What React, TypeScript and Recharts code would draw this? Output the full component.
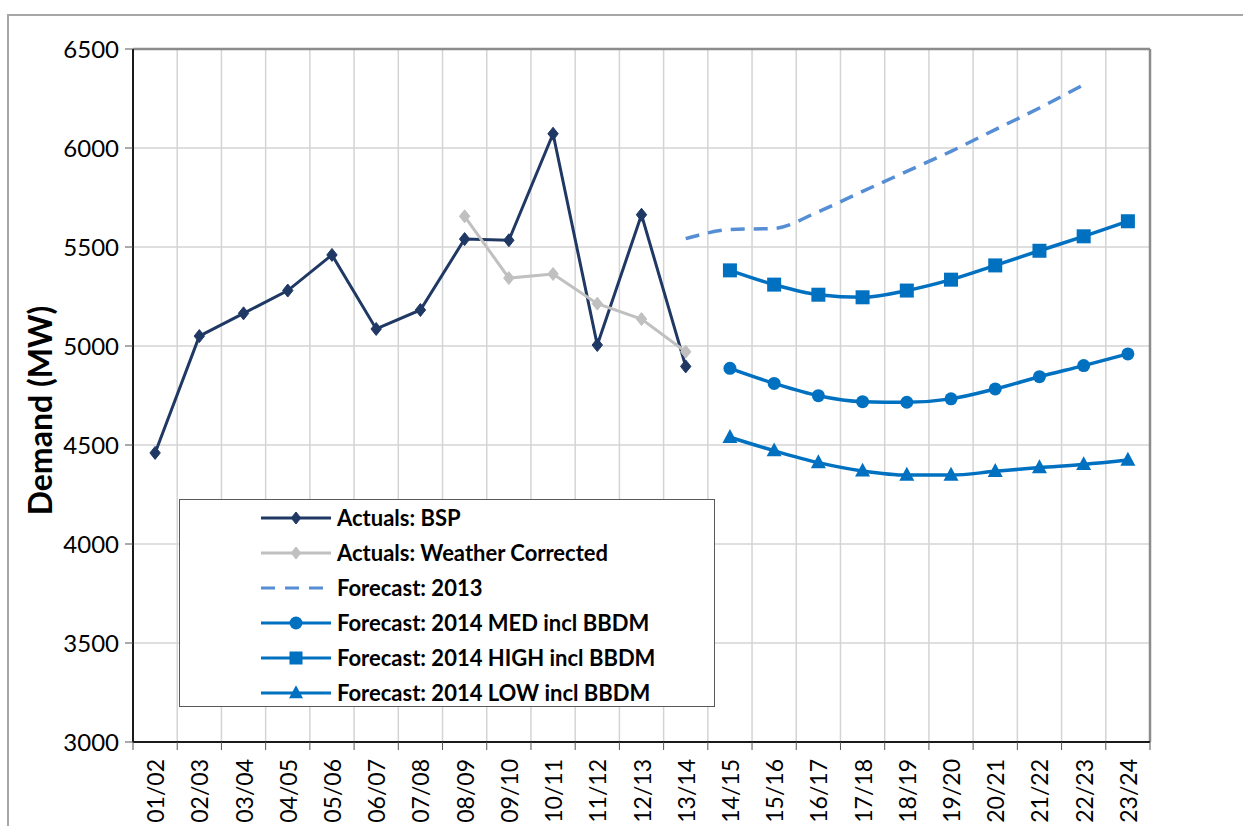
import React from 'react';
import { LineChart, Line, XAxis, YAxis, CartesianGrid, Legend, ReferenceLine } from 'recharts';

const categories = ['01/02','02/03','03/04','04/05','05/06','06/07','07/08','08/09','09/10','10/11','11/12','12/13','13/14','14/15','15/16','16/17','17/18','18/19','19/20','20/21','21/22','22/23','23/24'];
const actualsBSP = [4460, 5050, 5165, 5280, 5460, 5086, 5182, 5540, 5534, 6072, 5005, 5663, 4897, null, null, null, null, null, null, null, null, null, null];
const weatherCorrected = [null, null, null, null, null, null, null, 5655, 5343, 5364, 5214, 5136, 4971, null, null, null, null, null, null, null, null, null, null];
const forecast2013 = [null, null, null, null, null, null, null, null, null, null, null, null, 5542, 5588, 5594, 5678, 5781, 5882, 5983, 6093, 6202, 6320, null];
const forecastMed = [null, null, null, null, null, null, null, null, null, null, null, null, null, 4887, 4811, 4749, 4719, 4716, 4733, 4783, 4845, 4901, 4960];
const forecastHigh = [null, null, null, null, null, null, null, null, null, null, null, null, null, 5382, 5310, 5259, 5246, 5280, 5335, 5407, 5481, 5554, 5630];
const forecastLow = [null, null, null, null, null, null, null, null, null, null, null, null, null, 4539, 4471, 4411, 4369, 4348, 4348, 4367, 4386, 4402, 4424];
const yTicks = [3000, 3500, 4000, 4500, 5000, 5500, 6000, 6500];
const legendOrder = ['bsp', 'wc', 'f2013', 'med', 'high', 'low'];

const data = categories.map((c, i) => ({
  x: i + 0.5,
  cat: c,
  bsp: actualsBSP[i],
  wc: weatherCorrected[i],
  f2013: forecast2013[i],
  med: forecastMed[i],
  high: forecastHigh[i],
  low: forecastLow[i],
}));
const boundaryTicks = categories.map((_, i) => i).concat([categories.length]);
const centerTicks = categories.map((_, i) => i + 0.5);

const NAVY = '#1F3864';
const GREY = '#C0C0C0';
const DASH = '#558ED5';
const BLUE = '#0070C0';
const FONT = 'Lato, "Open Sans", sans-serif';

type Shape = 'diamond' | 'square' | 'circle' | 'triangle' | 'none';

function marker(shape: Shape, cx: number, cy: number, color: string, s: number, key?: any) {
  if (shape === 'diamond') {
    return <path key={key} d={`M${cx},${cy - s}L${cx + s * 0.8},${cy}L${cx},${cy + s}L${cx - s * 0.8},${cy}Z`} fill={color} stroke={color} />;
  }
  if (shape === 'square') {
    return <rect key={key} x={cx - s} y={cy - s} width={2 * s} height={2 * s} fill={color} />;
  }
  if (shape === 'circle') {
    return <circle key={key} cx={cx} cy={cy} r={s} fill={color} />;
  }
  if (shape === 'triangle') {
    return <path key={key} d={`M${cx},${cy - s * 1.1}L${cx + s},${cy + s * 0.75}L${cx - s},${cy + s * 0.75}Z`} fill={color} />;
  }
  return null;
}

const makeDot = (shape: Shape, color: string, s: number) => (props: any) => {
  const { cx, cy, index, value } = props;
  if (cx == null || cy == null || value == null || Number.isNaN(cy)) return <g key={index} />;
  return <g key={index}>{marker(shape, cx, cy, color, s)}</g>;
};

const legendSpec: Record<string, { shape: Shape; color: string; dash?: string; s: number; w: number }> = {
  bsp: { shape: 'diamond', color: NAVY, s: 6, w: 3 },
  wc: { shape: 'diamond', color: GREY, s: 6, w: 3 },
  f2013: { shape: 'none', color: DASH, dash: '14 10', s: 0, w: 3 },
  med: { shape: 'circle', color: BLUE, s: 6.5, w: 3 },
  high: { shape: 'square', color: BLUE, s: 6.5, w: 3 },
  low: { shape: 'triangle', color: BLUE, s: 7, w: 3 },
};

const LegendBox = (props: any) => {
  const payload = [...(props.payload || [])].sort(
    (a: any, b: any) => legendOrder.indexOf(a.dataKey) - legendOrder.indexOf(b.dataKey)
  );
  return (
    <div style={{ paddingTop: 0 }}>
      {payload.map((p: any) => {
        const spec = legendSpec[p.dataKey];
        return (
          <div key={p.dataKey} style={{ display: 'flex', alignItems: 'center', height: 35, marginLeft: 80 }}>
            <svg width={74} height={20} style={{ flex: 'none' }}>
              <line x1={1} y1={10} x2={71} y2={10} stroke={spec.color} strokeWidth={spec.w} strokeDasharray={spec.dash} />
              {marker(spec.shape, 36, 10, spec.color, spec.s)}
            </svg>
            <span style={{ fontFamily: FONT, fontWeight: 700, fontSize: 22, color: '#000', marginLeft: 3, whiteSpace: 'nowrap' }}>{p.value}</span>
          </div>
        );
      })}
    </div>
  );
};

const CatTick = (props: any) => {
  const { x, y, payload } = props;
  const label = categories[Math.floor(payload.value)];
  const ty = y + 1;
  return (
    <text x={x} y={ty} transform={`rotate(-90 ${x} ${ty})`} textAnchor="end" dominantBaseline="central" fontSize={23} fontFamily={FONT} fill="#000">
      {label}
    </text>
  );
};

const YLabel = (props: any) => {
  const vb = props.viewBox || {};
  const cx = 39;
  const cy = vb.y + vb.height / 2 + 15;
  return (
    <text x={cx} y={cy} transform={`rotate(-90 ${cx} ${cy})`} textAnchor="middle" dominantBaseline="central" fontSize={32} fontWeight={700} fontFamily={FONT} fill="#000">
      Demand (MW)
    </text>
  );
};

export default function App() {
  return (
    <div style={{ position: 'fixed', left: 0, top: 0, width: 1243, height: 826, overflow: 'hidden', background: '#fff' }}>
      <div style={{ position: 'absolute', left: 7, top: 14, width: 1400, height: 1000, border: '2px solid #A6A6A6' }} />
      <div style={{ position: 'absolute', left: 0, top: 0 }}>
        <LineChart width={1243} height={826} data={data} margin={{ top: 49, right: 93, bottom: 0, left: 55 }}>
          <CartesianGrid stroke="#D4D4D4" strokeWidth={1.5} />
          <XAxis
            xAxisId={0}
            type="number"
            dataKey="x"
            domain={[0, 23]}
            ticks={boundaryTicks}
            interval={0}
            tickFormatter={() => ''}
            tickSize={8}
            height={8}
            axisLine={{ stroke: '#1a1a1a', strokeWidth: 2 }}
            tickLine={{ stroke: '#555', strokeWidth: 1 }}
          />
          <XAxis
            xAxisId="lab"
            type="number"
            dataKey="x"
            domain={[0, 23]}
            ticks={centerTicks}
            interval={0}
            tickLine={false}
            axisLine={false}
            height={76}
            tick={<CatTick />}
          />
          <YAxis
            type="number"
            domain={[3000, 6500]}
            ticks={yTicks}
            interval={0}
            width={78}
            tickSize={8}
            tickMargin={6}
            axisLine={{ stroke: '#1a1a1a', strokeWidth: 2 }}
            tickLine={{ stroke: '#555', strokeWidth: 1 }}
            tick={{ fontSize: 24, fontFamily: FONT, fill: '#000' }}
            label={<YLabel />}
          />
          <ReferenceLine y={6500} stroke="#8C8C8C" strokeWidth={2.5} />
          <ReferenceLine x={23} stroke="#8C8C8C" strokeWidth={2.5} />
          <Legend
            layout="horizontal"
            verticalAlign="middle"
            align="center"
            content={<LegendBox />}
            wrapperStyle={{ position: 'absolute', left: 179, top: 499, width: 536, height: 208, border: '1.5px solid #595959', background: '#fff', boxSizing: 'border-box' }}
          />
          <Line name="Actuals: BSP" dataKey="bsp" type="linear" stroke={NAVY} strokeWidth={3} dot={makeDot('diamond', NAVY, 6.5)} activeDot={false} isAnimationActive={false} connectNulls={false} />
          <Line name="Actuals: Weather Corrected" dataKey="wc" type="linear" stroke={GREY} strokeWidth={3} dot={makeDot('diamond', GREY, 6.5)} activeDot={false} isAnimationActive={false} />
          <Line name="Forecast: 2013" dataKey="f2013" type="monotone" stroke={DASH} strokeWidth={3.5} strokeDasharray="14 9" dot={false} activeDot={false} isAnimationActive={false} />
          <Line name="Forecast: 2014 MED incl BBDM" dataKey="med" type="monotone" stroke={BLUE} strokeWidth={3.5} dot={makeDot('circle', BLUE, 6.5)} activeDot={false} isAnimationActive={false} />
          <Line name="Forecast: 2014 HIGH incl BBDM" dataKey="high" type="monotone" stroke={BLUE} strokeWidth={3.5} dot={makeDot('square', BLUE, 7)} activeDot={false} isAnimationActive={false} />
          <Line name="Forecast: 2014 LOW incl BBDM" dataKey="low" type="monotone" stroke={BLUE} strokeWidth={3.5} dot={makeDot('triangle', BLUE, 7.5)} activeDot={false} isAnimationActive={false} />
        </LineChart>
      </div>
    </div>
  );
}
